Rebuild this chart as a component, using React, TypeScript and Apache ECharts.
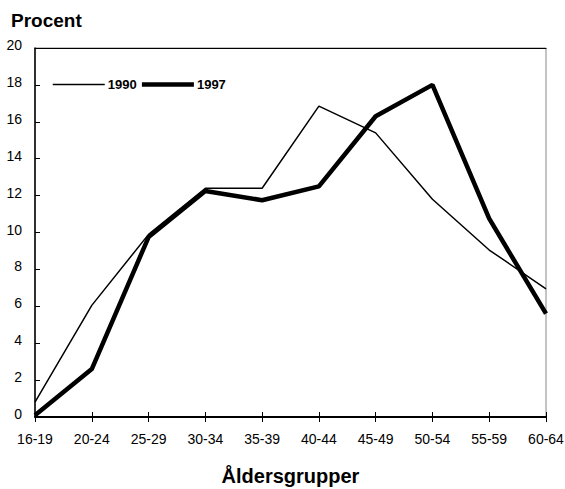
import React, { useEffect, useRef } from "react";
import * as echarts from "echarts";

const categories = ["16-19", "20-24", "25-29", "30-34", "35-39", "40-44", "45-49", "50-54", "55-59", "60-64"];
const values1990 = [0.8, 6.05, 9.9, 12.4, 12.4, 16.85, 15.4, 11.8, 9.05, 6.95];
const values1997 = [0.1, 2.6, 9.75, 12.25, 11.75, 12.5, 16.3, 18.0, 10.75, 5.6];
const yTicks = { min: 0, max: 20, interval: 2 };

const narrow = "'Liberation Sans Narrow', 'Liberation Sans', Arial, sans-serif";
const sans = "'Liberation Sans', Arial, sans-serif";

export default function App() {
  const ref = useRef<HTMLDivElement>(null);
  useEffect(() => {
    const chart = echarts.init(ref.current!, null, { renderer: "svg" });
    chart.setOption({
      animation: false,
      backgroundColor: "#fff",
      title: {
        text: "Procent",
        left: 6,
        top: 6,
        textStyle: { fontFamily: sans, fontSize: 19, fontWeight: "bold", color: "#000" },
      },
      legend: {
        left: 47,
        top: 73,
        itemWidth: 52,
        itemHeight: 14,
        itemGap: 3,
        itemStyle: { color: "rgba(0,0,0,0)", borderWidth: 0 },
        textStyle: { fontFamily: narrow, fontWeight: "bold", fontSize: 13, color: "#000", padding: [0, 0, 0, -2] },
        data: [
          { name: "1990", lineStyle: { color: "#000", width: 1.5 } },
          { name: "1997", lineStyle: { color: "#000", width: 4.5 } },
        ],
      },
      grid: {
        left: 35,
        right: 19,
        top: 48,
        bottom: 72,
        show: true,
        borderColor: "#888",
        borderWidth: 1,
        containLabel: false,
        outerBoundsMode: "none",
      },
      xAxis: [
        {
          type: "category",
          data: categories,
          boundaryGap: false,
          position: "bottom",
          axisLine: { lineStyle: { color: "#000", width: 2 } },
          axisTick: { alignWithLabel: true, length: 5, lineStyle: { color: "#000", width: 1 } },
          axisLabel: { fontFamily: narrow, fontSize: 14, color: "#000", margin: 15 },
          name: "Åldersgrupper",
          nameLocation: "middle",
          nameGap: 49,
          nameTextStyle: { fontFamily: sans, fontSize: 20, fontWeight: "bold", color: "#000" },
        },
        {
          type: "category",
          data: categories,
          boundaryGap: false,
          position: "bottom",
          offset: 0,
          axisLine: { show: false },
          axisTick: { inside: true, length: 5, lineStyle: { color: "#000", width: 1 } },
          axisLabel: { show: false },
        },
        {
          type: "category",
          data: categories,
          boundaryGap: false,
          position: "top",
          axisLine: { lineStyle: { color: "#000", width: 1 } },
          axisTick: { show: false },
          axisLabel: { show: false },
        },
      ],
      yAxis: {
        type: "value",
        min: yTicks.min,
        max: yTicks.max,
        interval: yTicks.interval,
        axisLine: { show: true, lineStyle: { color: "#000", width: 1.5 } },
        axisTick: { show: true, inside: true, length: 5, lineStyle: { color: "#000" } },
        splitLine: { show: false },
        axisLabel: {
          fontFamily: narrow,
          fontSize: 14,
          color: "#000",
          margin: 13,
          verticalAlign: "bottom",
          lineHeight: 6,
        },
      },
      series: [
        {
          name: "1990",
          type: "line",
          data: values1990,
          symbol: "none",
          lineStyle: { color: "#000", width: 1.5 },
          itemStyle: { color: "#000" },
        },
        {
          name: "1997",
          type: "line",
          data: values1997,
          symbol: "none",
          lineStyle: { color: "#000", width: 4.5 },
          itemStyle: { color: "#000" },
        },
      ],
    });
    return () => chart.dispose();
  }, []);
  return <div ref={ref} style={{ width: 565, height: 489, position: "absolute", left: 0, top: 0 }} />;
}
